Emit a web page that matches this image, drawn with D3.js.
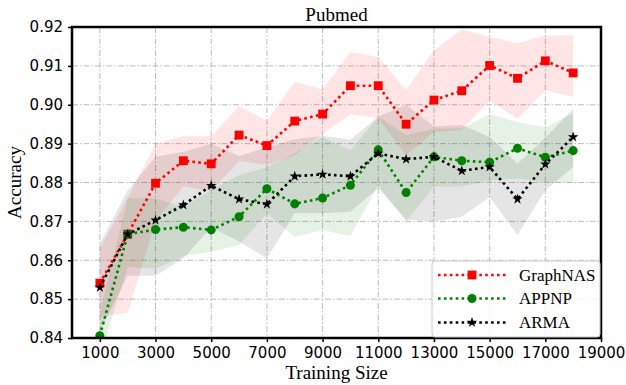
<!DOCTYPE html>
<html>
<head>
<meta charset="utf-8">
<title>Pubmed</title>
<script src="https://cdnjs.cloudflare.com/ajax/libs/d3/7.8.5/d3.min.js"></script>
<style>
  body { margin: 0; background: #fff; }
</style>
</head>
<body>
<script>
// training sizes (x) and tick values
var sizes = [1000, 2000, 3000, 4000, 5000, 6000, 7000, 8000, 9000, 10000,
             11000, 12000, 13000, 14000, 15000, 16000, 17000, 18000];
var xTicks = [1000, 3000, 5000, 7000, 9000, 11000, 13000, 15000, 17000, 19000];
var yTicks = [0.84, 0.85, 0.86, 0.87, 0.88, 0.89, 0.90, 0.91, 0.92];

// GraphNAS mean and band
var graphnas   = [0.8541, 0.8667, 0.8798, 0.8856, 0.8848, 0.8922, 0.8895, 0.8958, 0.8976, 0.9049,
                  0.9049, 0.8950, 0.9012, 0.9036, 0.9101, 0.9068, 0.9113, 0.9082];
var graphnasHi = [0.8630, 0.8760, 0.8900, 0.8919, 0.8919, 0.8996, 0.8959, 0.9059, 0.9039, 0.9136,
                  0.9123, 0.9038, 0.9140, 0.9194, 0.9175, 0.9158, 0.9178, 0.9178];
var graphnasLo = [0.8455, 0.8465, 0.8700, 0.8790, 0.8778, 0.8855, 0.8845, 0.8870, 0.8925, 0.8975,
                  0.8965, 0.8870, 0.8930, 0.8935, 0.9010, 0.8964, 0.9037, 0.9020];

// APPNP mean and band
var appnp   = [0.8406, 0.8667, 0.8679, 0.8685, 0.8678, 0.8712, 0.8784, 0.8745, 0.8760, 0.8793,
               0.8884, 0.8774, 0.8866, 0.8856, 0.8852, 0.8888, 0.8865, 0.8882];
var appnpHi = [0.8464, 0.8760, 0.8759, 0.8738, 0.8780, 0.8819, 0.8840, 0.8875, 0.8917, 0.8883,
               0.8969, 0.8922, 0.8939, 0.8939, 0.8976, 0.8955, 0.8942, 0.8978];
var appnpLo = [0.8350, 0.8583, 0.8578, 0.8610, 0.8622, 0.8639, 0.8720, 0.8660, 0.8678, 0.8662,
               0.8793, 0.8700, 0.8790, 0.8790, 0.8806, 0.8810, 0.8800, 0.8800];

// ARMA mean and band
var arma   = [0.8530, 0.8667, 0.8703, 0.8742, 0.8792, 0.8757, 0.8744, 0.8816, 0.8821, 0.8816,
              0.8875, 0.8860, 0.8866, 0.8830, 0.8840, 0.8757, 0.8847, 0.8917];
var armaHi = [0.8643, 0.8780, 0.8866, 0.8879, 0.8900, 0.8868, 0.8890, 0.8911, 0.8920, 0.8910,
              0.8970, 0.9000, 0.8945, 0.8948, 0.8917, 0.8849, 0.8915, 0.8990];
var armaLo = [0.8417, 0.8560, 0.8560, 0.8605, 0.8685, 0.8648, 0.8605, 0.8721, 0.8721, 0.8725,
              0.8785, 0.8705, 0.8700, 0.8712, 0.8763, 0.8665, 0.8780, 0.8840];

var series = [
  { name: "GraphNAS", color: "red",   mean: graphnas, hi: graphnasHi, lo: graphnasLo, shape: d3.symbolSquare, size: 78 },
  { name: "APPNP",    color: "green", mean: appnp,    hi: appnpHi,    lo: appnpLo,    shape: d3.symbolCircle, size: 64 },
  { name: "ARMA",     color: "black", mean: arma,     hi: armaHi,     lo: armaLo,     shape: d3.symbolStar,   size: 34 }
];

var W = 626, H = 385;
var pLeft = 72, pRight = 601, pTop = 27, pBottom = 338;
var serif = "'Liberation Serif', 'Times New Roman', serif";
var sans = "'DejaVu Sans', sans-serif";

var svg = d3.select("body").append("svg")
            .attr("width", W)
            .attr("height", H);

var x = d3.scaleLinear().domain([0, 19000]).range([pLeft, pRight]);
var y = d3.scaleLinear().domain([0.84, 0.92]).range([pBottom, pTop]);

svg.append("clipPath").attr("id", "plotclip")
   .append("rect")
   .attr("x", pLeft).attr("y", pTop)
   .attr("width", pRight - pLeft).attr("height", pBottom - pTop);

// grid (dash-dot)
var grid = svg.append("g");
grid.selectAll(".gx").data(xTicks).enter().append("line")
    .attr("x1", d => x(d)).attr("x2", d => x(d))
    .attr("y1", pTop).attr("y2", pBottom);
grid.selectAll(".gy").data(yTicks).enter().append("line")
    .attr("x1", pLeft).attr("x2", pRight)
    .attr("y1", d => y(d)).attr("y2", d => y(d));
grid.selectAll("line")
    .attr("stroke", "#bdbdbd")
    .attr("stroke-width", 1)
    .attr("stroke-dasharray", "6,2,1.5,2");

var plot = svg.append("g").attr("clip-path", "url(#plotclip)");

// shaded bands
var area = d3.area()
  .x(d => x(d.s))
  .y0(d => y(d.lo))
  .y1(d => y(d.hi));

series.forEach(function(s) {
  var pts = sizes.map((v, i) => ({ s: v, lo: s.lo[i], hi: s.hi[i] }));
  plot.append("path")
      .datum(pts)
      .attr("d", area)
      .attr("fill", s.color)
      .attr("fill-opacity", 0.1);
});

// dotted lines and markers
var line = d3.line()
  .x(d => x(d.s))
  .y(d => y(d.v));

series.forEach(function(s) {
  var pts = sizes.map((v, i) => ({ s: v, v: s.mean[i] }));
  plot.append("path")
      .datum(pts)
      .attr("d", line)
      .attr("fill", "none")
      .attr("stroke", s.color)
      .attr("stroke-width", 2.6)
      .attr("stroke-dasharray", "2.6,3.3");
  plot.selectAll(null).data(pts).enter().append("path")
      .attr("d", d3.symbol().type(s.shape).size(s.size))
      .attr("transform", d => "translate(" + x(d.s) + "," + y(d.v) + ")")
      .attr("fill", s.color);
});

// axes
var xAxis = svg.append("g")
  .attr("transform", "translate(0," + pBottom + ")")
  .call(d3.axisBottom(x).tickValues(xTicks).tickFormat(d3.format("d")).tickSize(4).tickPadding(5));
var yAxis = svg.append("g")
  .attr("transform", "translate(" + pLeft + ",0)")
  .call(d3.axisLeft(y).tickValues(yTicks).tickFormat(d3.format(".2f")).tickSize(4).tickPadding(5));

[xAxis, yAxis].forEach(function(a) {
  a.select(".domain").remove();
  a.selectAll(".tick line").attr("stroke", "#000").attr("stroke-width", 1.5);
  a.selectAll(".tick text")
   .attr("fill", "#000")
   .style("font-family", sans)
   .style("font-size", "15px");
});

// frame
svg.append("rect")
   .attr("x", pLeft).attr("y", pTop)
   .attr("width", pRight - pLeft).attr("height", pBottom - pTop)
   .attr("fill", "none")
   .attr("stroke", "#000")
   .attr("stroke-width", 2.5);

// titles
svg.append("text")
   .attr("x", (pLeft + pRight) / 2).attr("y", 21)
   .attr("text-anchor", "middle")
   .style("font-family", serif).style("font-size", "19px")
   .text("Pubmed");

svg.append("text")
   .attr("x", (pLeft + pRight) / 2).attr("y", 379)
   .attr("text-anchor", "middle")
   .style("font-family", serif).style("font-size", "19px")
   .text("Training Size");

svg.append("text")
   .attr("transform", "translate(21," + ((pTop + pBottom) / 2) + ") rotate(-90)")
   .attr("text-anchor", "middle")
   .style("font-family", serif).style("font-size", "19px")
   .text("Accuracy");

// legend
var legend = svg.append("g");
legend.append("rect")
   .attr("x", 432).attr("y", 261)
   .attr("width", 168).attr("height", 76)
   .attr("rx", 3)
   .attr("fill", "#fff").attr("fill-opacity", 0.8)
   .attr("stroke", "#cccccc").attr("stroke-width", 1);

var rows = [275, 298.5, 322.5];
series.forEach(function(s, i) {
  var ry = rows[i];
  legend.append("line")
     .attr("x1", 438).attr("x2", 506)
     .attr("y1", ry).attr("y2", ry)
     .attr("stroke", s.color)
     .attr("stroke-width", 2.6)
     .attr("stroke-dasharray", "2.6,3.3");
  legend.append("path")
     .attr("d", d3.symbol().type(s.shape).size(s.size))
     .attr("transform", "translate(472," + ry + ")")
     .attr("fill", s.color);
  legend.append("text")
     .attr("x", 519).attr("y", ry)
     .attr("dy", "0.35em")
     .style("font-family", serif).style("font-size", "17px")
     .text(s.name);
});
</script>
</body>
</html>
